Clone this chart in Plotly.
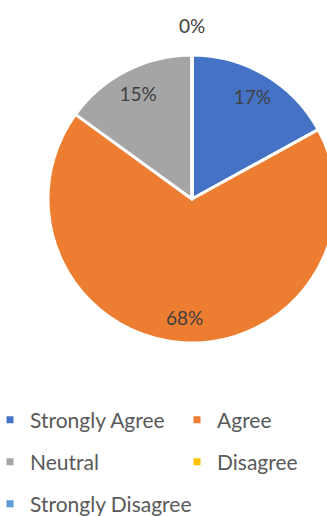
import plotly.graph_objects as go

categories = ["Strongly Agree", "Agree", "Neutral", "Disagree", "Strongly Disagree"]
values = [17, 68, 15, 0, 0]
colors = ["#4472C4", "#ED7D31", "#A5A5A5", "#FFC000", "#5B9BD5"]

W, H = 340, 516
FONT = "Lato"
TXT = "#595959"
LBL = "#404040"

# pie geometry (pixels)
CX, CY, R = 192, 199, 144
dom = dict(x=[(CX - R) / W, (CX + R) / W], y=[(H - CY - R) / H, (H - CY + R) / H])

fig = go.Figure()
# slices
fig.add_trace(go.Pie(
    labels=categories, values=values, sort=False,
    direction="clockwise", rotation=0,
    marker=dict(colors=colors, line=dict(color="white", width=3)),
    textinfo="none", showlegend=False, domain=dom,
    hoverinfo="label+percent",
))
# percentage labels, placed in an invisible ring so they sit near the rim
fig.add_trace(go.Pie(
    labels=categories, values=values, sort=False,
    direction="clockwise", rotation=0, hole=0.65,
    marker=dict(colors=["rgba(0,0,0,0)"] * len(values), line=dict(width=0)),
    texttemplate="%{percent:.0%}",
    textposition=["inside", "inside", "inside", "none", "none"],
    insidetextorientation="horizontal",
    textfont=dict(family=FONT, size=19, color=LBL),
    showlegend=False, domain=dom, hoverinfo="skip",
))

# label of the empty slices, above the top of the pie
total = sum(values)
fig.add_annotation(
    text=f"{values[3] / total:.0%}", xref="paper", yref="paper",
    x=CX / W, y=(H - CY + R) / H, xanchor="center", yanchor="bottom",
    yshift=16, showarrow=False,
    font=dict(family=FONT, size=19, color=LBL),
)

# legend: one legend per entry, two columns
legend_names = ["legend", "legend2", "legend3", "legend4", "legend5"]
col_x = [-10, 177]
row_y = [420, 462, 504]
layout_legends = {}
for i, name in enumerate(categories):
    fig.add_trace(go.Scatter(
        x=[None], y=[None], mode="markers", name=name,
        marker=dict(symbol="square", size=7, color=colors[i]),
        legend=legend_names[i], showlegend=True, hoverinfo="skip",
    ))
    layout_legends[legend_names[i]] = dict(
        orientation="h", xanchor="left", yanchor="middle",
        x=col_x[i % 2] / W, y=1 - row_y[i // 2] / H,
        font=dict(family=FONT, size=21, color=TXT),
        bgcolor="rgba(0,0,0,0)",
    )

fig.update_layout(
    width=W, height=H,
    margin=dict(l=0, r=0, t=0, b=0, autoexpand=False),
    paper_bgcolor="white", plot_bgcolor="white",
    xaxis=dict(visible=False), yaxis=dict(visible=False),
    **layout_legends,
)

fig.write_html(
    "out.html",
    config={"displayModeBar": False},
    post_script="document.documentElement.style.overflow='hidden';document.body.style.overflow='hidden';document.body.style.margin='0';",
)
